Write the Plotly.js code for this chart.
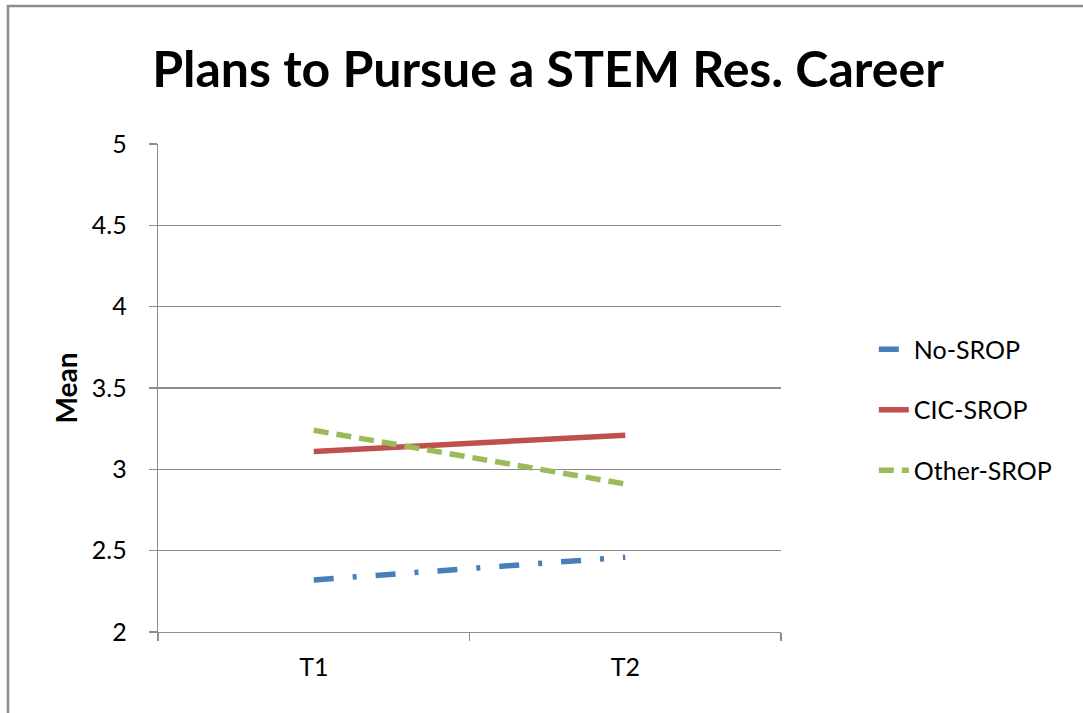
<!DOCTYPE html>
<html>
<head>
<meta charset="utf-8">
<script src="https://cdn.plot.ly/plotly-3.0.1.min.js"></script>
<style>
  html, body { margin: 0; padding: 0; background: #fff; }
  #chart { width: 1083px; height: 713px; }
</style>
</head>
<body>
<div id="chart"></div>
<script>
// Survey time points and mean responses per program group
const timePoints = ["T1", "T2"];
const noSrop = [2.32, 2.46];
const cicSrop = [3.11, 3.21];
const otherSrop = [3.24, 2.91];
const yTicks = [2, 2.5, 3, 3.5, 4, 4.5, 5];

const FONT = "Lato, 'Noto Sans', sans-serif";
const GRID = "#8c8c8c";

const traces = [
  {
    x: timePoints, y: noSrop, name: "No-SROP", mode: "lines", legendgroup: "a",
    line: { color: "#4a7ebb", width: 5.5, dash: "20px,19px,4px,19px" }
  },
  {
    x: timePoints, y: cicSrop, name: "CIC-SROP", mode: "lines", legendgroup: "b",
    line: { color: "#c0504d", width: 5.5 }
  },
  {
    x: timePoints, y: otherSrop, name: "Other-SROP", mode: "lines", legendgroup: "c",
    line: { color: "#9bbb59", width: 5.5, dash: "15px,8px" }
  }
];

const layout = {
  width: 1083,
  height: 713,
  margin: { l: 158, r: 302, t: 144, b: 81 },
  paper_bgcolor: "#ffffff",
  plot_bgcolor: "#ffffff",
  font: { family: FONT, color: "#000" },
  title: {
    text: "Plans to Pursue a STEM Res. Career",
    font: { family: FONT, size: 50, weight: 700, color: "#000" },
    x: 0.506, xanchor: "center",
    y: 0.903, yanchor: "middle"
  },
  xaxis: {
    type: "category",
    categoryarray: timePoints,
    range: [-0.5, 1.5],
    tickson: "boundaries",
    ticks: "outside", ticklen: 8, tickcolor: GRID, tickwidth: 1.3,
    showline: true, linecolor: GRID, linewidth: 1.3,
    showgrid: false, zeroline: false,
    tickfont: { family: FONT, size: 25, color: "#000" },
    ticklabelstandoff: 13,
    fixedrange: true
  },
  yaxis: {
    range: [2, 5],
    tickvals: yTicks,
    ticks: "outside", ticklen: 8, tickcolor: GRID, tickwidth: 1.3,
    showline: true, linecolor: GRID, linewidth: 1.3,
    showgrid: true, gridcolor: GRID, gridwidth: 1.3,
    zeroline: false,
    tickfont: { family: FONT, size: 25, color: "#000" },
    ticklabelstandoff: 17,
    title: { text: "Mean", font: { family: FONT, size: 28, weight: 700, color: "#000" }, standoff: 6 },
    fixedrange: true
  },
  showlegend: true,
  legend: {
    x: 1.149, xanchor: "left",
    y: 0.455, yanchor: "middle",
    font: { family: FONT, size: 25, color: "#000" },
    traceorder: "grouped",
    tracegroupgap: 25,
    bgcolor: "rgba(0,0,0,0)",
    borderwidth: 0
  },
  shapes: [
    {
      type: "rect", xref: "paper", yref: "paper",
      x0: -0.2408, x1: 2, y0: -0.5, y1: 1.2828,
      line: { color: "#8c8c8c", width: 2.5 },
      fillcolor: "rgba(0,0,0,0)", layer: "below"
    }
  ]
};

Plotly.newPlot("chart", traces, layout, { displayModeBar: false, staticPlot: true });
</script>
</body>
</html>
